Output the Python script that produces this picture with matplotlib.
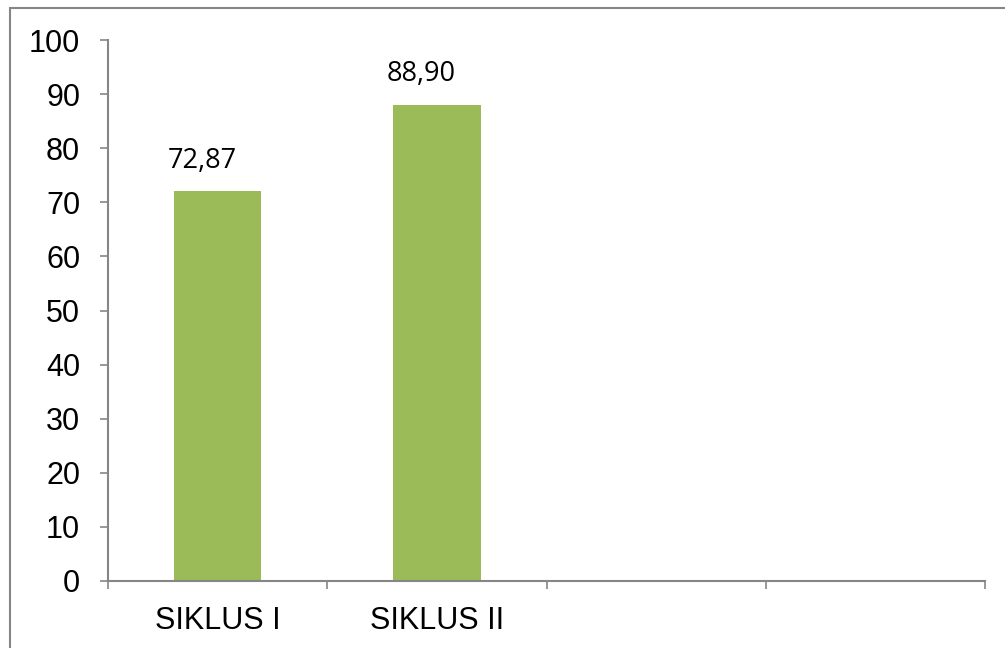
import matplotlib.pyplot as plt
from matplotlib.patches import Rectangle

## Data
categories = ["SIKLUS I", "SIKLUS II", "", ""]
bar_heights = [72, 88]
bar_labels = ["72,87", "88,90"]
yticks = [0, 10, 20, 30, 40, 50, 60, 70, 80, 90, 100]

GREEN = "#9bbb59"
GRAY = "#868686"

fig = plt.figure(figsize=(10.05, 6.48), dpi=100)
ax = fig.add_axes([108 / 1005, 1 - 581 / 648, 877 / 1005, 541 / 648])

x = list(range(len(bar_heights)))
ax.bar(x, bar_heights, width=0.4, color=GREEN, zorder=2)

for xi, h, lab in zip(x, bar_heights, bar_labels):
    ax.annotate(lab, (xi, h), xytext=(-11, 17), textcoords="offset points",
                ha="center", va="baseline", fontsize=19.5, family="Open Sans")

ax.set_xlim(-0.5, len(categories) - 0.5)
ax.set_ylim(0, 100)
ax.set_yticks(yticks)
ax.tick_params(axis="y", labelsize=22, length=6, width=1.2, color=GRAY, pad=14)

# tick marks at category boundaries, labels at centres
ax.set_xticks([i - 0.5 for i in range(len(categories) + 1)])
ax.set_xticklabels([])
ax.tick_params(axis="x", which="major", length=6, width=1.2, color=GRAY)
ax.set_xticks(range(len(categories)), minor=True)
ax.set_xticklabels(categories, minor=True)
ax.tick_params(axis="x", which="minor", length=0, labelsize=22, pad=18)

for side in ["top", "right"]:
    ax.spines[side].set_visible(False)
for side in ["left", "bottom"]:
    ax.spines[side].set_color(GRAY)
    ax.spines[side].set_linewidth(1.5)

for t in ax.get_yticklabels() + ax.get_xticklabels(minor=True):
    t.set_family("Liberation Sans")

# outer chart frame
fig.patches.append(Rectangle((10 / 1005, -0.1), 1.2, 1.1 - 8 / 648,
                             transform=fig.transFigure, fill=False,
                             edgecolor=GRAY, linewidth=1.5))

fig.savefig("out.png", dpi=100)
